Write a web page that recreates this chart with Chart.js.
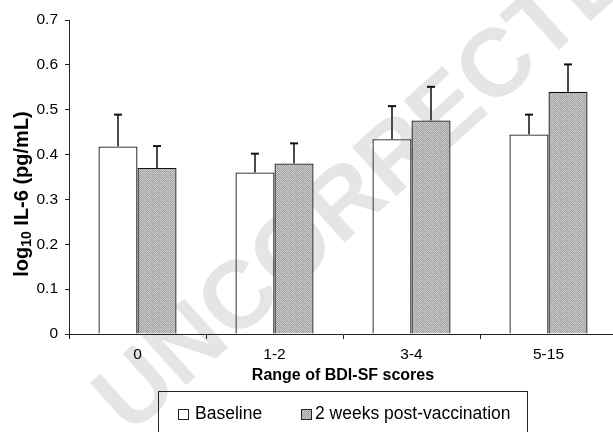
<!DOCTYPE html>
<html>
<head>
    <meta charset="UTF-8" />
    <title>IL-6 by BDI-SF score range</title>
    <script src="https://cdn.jsdelivr.net/npm/chart.js@4.4.9/dist/chart.umd.min.js"></script>
    <style>
        body { margin: 0; overflow: hidden; background: #fff; }
        #wrap { width: 620px; height: 432px; }
    </style>
</head>
<body>
    <div id="wrap"><canvas id="chart"></canvas></div>
</body>
<script>
    // Data
    const categories = ['0', '1-2', '3-4', '5-15'];
    const seriesNames = ['Baseline', '2 weeks post-vaccination'];
    const baseline = [0.418, 0.360, 0.434, 0.445];
    const baselineErr = [0.071, 0.042, 0.074, 0.044];
    const postVacc = [0.370, 0.380, 0.476, 0.540];
    const postVaccErr = [0.049, 0.045, 0.075, 0.061];
    const yTicks = [0, 0.1, 0.2, 0.3, 0.4, 0.5, 0.6, 0.7];

    const FONT = "'Liberation Sans', Arial, sans-serif";

    // stippled grey fill like the printed figure
    function makeStipple() {
        const c = document.createElement('canvas');
        c.width = 6; c.height = 6;
        const g = c.getContext('2d');
        const shades = [
            '#c9c9c9', '#9d9d9d', '#c2c2c2', '#a4a4a4', '#d2d2d2', '#9a9a9a',
            '#a6a6a6', '#cfcfcf', '#989898', '#c6c6c6', '#a1a1a1', '#cbcbcb',
            '#d4d4d4', '#a9a9a9', '#c4c4c4', '#9c9c9c', '#d0d0d0', '#a3a3a3',
            '#9f9f9f', '#c8c8c8', '#a5a5a5', '#cdcdcd', '#979797', '#c3c3c3',
            '#cccccc', '#a2a2a2', '#d1d1d1', '#a0a0a0', '#c7c7c7', '#aaaaaa',
            '#a7a7a7', '#c5c5c5', '#9b9b9b', '#cecece', '#a8a8a8', '#d3d3d3'
        ];
        for (let i = 0; i < 36; i++) {
            g.fillStyle = shades[i];
            g.fillRect(i % 6, Math.floor(i / 6), 1, 1);
        }
        return g.createPattern(c, 'repeat');
    }
    const stipple = makeStipple();

    // upward error bars with a small cap
    const errorBars = {
        id: 'errorBars',
        afterDatasetsDraw(chart) {
            const ctx = chart.ctx;
            const y = chart.scales.y;
            const errs = [baselineErr, postVaccErr];
            ctx.save();
            chart.data.datasets.forEach((ds, di) => {
                chart.getDatasetMeta(di).data.forEach((bar, i) => {
                    const top = y.getPixelForValue(ds.data[i] + errs[di][i]);
                    ctx.strokeStyle = '#4a4a4a';
                    ctx.lineWidth = 2;
                    ctx.beginPath();
                    ctx.moveTo(bar.x, bar.y);
                    ctx.lineTo(bar.x, top);
                    ctx.stroke();
                    ctx.strokeStyle = '#111';
                    ctx.beginPath();
                    ctx.moveTo(bar.x - 4, top);
                    ctx.lineTo(bar.x + 4, top);
                    ctx.stroke();
                });
            });
            ctx.restore();
        }
    };

    // y title with a real subscript, legend box and the proof watermark
    const extras = {
        id: 'extras',
        afterDraw(chart) {
            const ctx = chart.ctx;
            const area = chart.chartArea;
            const cx = (area.left + area.right) / 2;

            // y axis title
            ctx.save();
            ctx.translate(22, 194);
            ctx.rotate(-Math.PI / 2);
            ctx.fillStyle = '#000';
            ctx.textBaseline = 'middle';
            const big = 'bold 20px ' + FONT, small = 'bold 14px ' + FONT;
            const parts = [['log', big, 0], ['10', small, 5], [' IL-6 (pg/mL)', big, 0]];
            let total = 0;
            parts.forEach(p => { ctx.font = p[1]; total += ctx.measureText(p[0]).width; });
            let x = -total / 2;
            parts.forEach(p => {
                ctx.font = p[1];
                ctx.fillText(p[0], x, p[2]);
                x += ctx.measureText(p[0]).width;
            });
            ctx.restore();

            // legend
            ctx.save();
            const ly = 414;
            ctx.strokeStyle = '#222';
            ctx.lineWidth = 1;
            ctx.strokeRect(cx - 184.5, 391.5, 369, 60);
            ctx.font = '17.5px ' + FONT;
            ctx.fillStyle = '#000';
            ctx.textBaseline = 'middle';
            const items = [
                { sq: cx - 165, tx: cx - 148, fill: '#ffffff' },
                { sq: cx - 42, tx: cx - 28, fill: stipple }
            ];
            items.forEach((it, i) => {
                ctx.fillStyle = it.fill;
                ctx.fillRect(it.sq, ly - 5, 10, 10);
                ctx.strokeStyle = '#222';
                ctx.strokeRect(it.sq + 0.5, ly - 4.5, 10, 10);
                ctx.fillStyle = '#000';
                ctx.fillText(seriesNames[i], it.tx, ly);
            });
            ctx.restore();

            // watermark, only darkens
            ctx.save();
            ctx.globalCompositeOperation = 'darken';
            ctx.translate(130, 436);
            ctx.rotate(-42 * Math.PI / 180);
            ctx.font = 'bold 96px ' + FONT;
            ctx.fillStyle = '#e5e5e5';
            ctx.textBaseline = 'alphabetic';
            ctx.fillText('UNCORRECTED PROOF', 0, 0);
            ctx.restore();
        }
    };

    new Chart(document.getElementById('chart'), {
        type: 'bar',
        data: {
            labels: categories,
            datasets: [
                {
                    label: seriesNames[0],
                    data: baseline,
                    backgroundColor: '#ffffff',
                    borderColor: '#111',
                    borderWidth: 1.3
                },
                {
                    label: seriesNames[1],
                    data: postVacc,
                    backgroundColor: stipple,
                    borderColor: '#111',
                    borderWidth: 1.3
                }
            ]
        },
        options: {
            animation: false,
            responsive: true,
            maintainAspectRatio: false,
            layout: { padding: { top: 20, right: 3, bottom: 0, left: 0 } },
            plugins: {
                legend: { display: false },
                tooltip: { enabled: false }
            },
            datasets: {
                bar: { categoryPercentage: 0.57, barPercentage: 1.0 }
            },
            scales: {
                x: {
                    grid: { drawOnChartArea: false, drawTicks: true, tickLength: 5, color: '#222' },
                    border: { display: true, color: '#222', width: 1 },
                    ticks: { color: '#000', font: { family: FONT, size: 15.5 }, padding: 6 },
                    title: {
                        display: true,
                        text: 'Range of BDI-SF scores',
                        color: '#000',
                        font: { family: FONT, size: 16, weight: 'bold' },
                        padding: { top: 0, bottom: 47 }
                    },
                    afterFit: s => { s.height = 98; }
                },
                y: {
                    min: 0,
                    max: 0.7,
                    afterBuildTicks: s => { s.ticks = yTicks.map(v => ({ value: v })); },
                    grid: { drawOnChartArea: false, drawTicks: true, tickLength: 4, color: '#222' },
                    border: { display: true, color: '#222', width: 1 },
                    ticks: {
                        color: '#000',
                        font: { family: FONT, size: 15.5 },
                        padding: 7,
                        callback: v => v === 0 ? '0' : v.toFixed(1)
                    },
                    afterFit: s => { s.width = 69; }
                }
            }
        },
        plugins: [errorBars, extras]
    });
</script>
</html>
